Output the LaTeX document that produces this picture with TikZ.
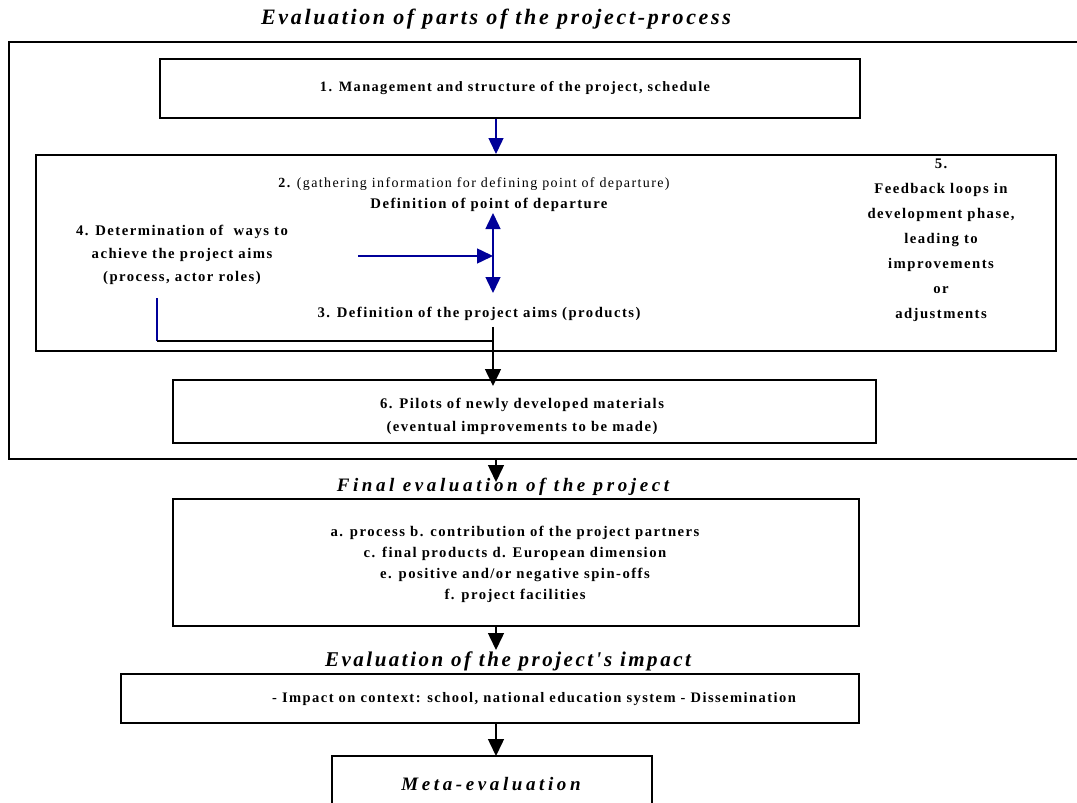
\documentclass[tikz,border=0pt]{standalone}
\usepackage{fontspec}
\setmainfont{Liberation Serif}
\newfontfamily\spfont{Liberation Serif}[LetterSpace=10]
\newfontfamily\ttlA{Liberation Serif}[LetterSpace=12]
\newfontfamily\ttlB{Liberation Serif}[LetterSpace=19]
\usetikzlibrary{arrows.meta}
\definecolor{navyblue}{RGB}{0,0,153}
\begin{document}
\begin{tikzpicture}[x=1pt,y=-1pt,
  box/.style={draw, line width=2pt, inner sep=0pt, anchor=north west},
  btxt/.style={font=\spfont\bfseries\fontsize{14.7}{21}\selectfont, align=center, inner sep=0pt},
  rtxt/.style={font=\spfont\fontsize{14}{21}\selectfont, align=center, inner sep=0pt},
  ctxt/.style={font=\spfont\bfseries\fontsize{14.3}{21}\selectfont, align=center, inner sep=0pt},
  ttla/.style={font=\ttlA\bfseries\itshape\fontsize{22}{26}\selectfont, inner sep=0pt},
  ttlb/.style={font=\ttlB\bfseries\itshape\fontsize{19}{22}\selectfont, inner sep=0pt},
  barrow/.style={draw=navyblue, line width=1.5pt, -{Triangle[width=15pt,length=16pt]}},
  bline/.style={draw=navyblue, line width=1.5pt},
  kline/.style={draw=black, line width=1.5pt},
  karrow/.style={draw=black, line width=1.5pt, -{Triangle[width=16pt,length=17pt]}}
]
\useasboundingbox (0,0) rectangle (1077,803);
\fill[white] (0,0) rectangle (1077,803);

% title
\node[ttla] (title1) at (496,19) {Evaluation of parts of the project-process};

% outer frame
\node[box, minimum width=1090pt, minimum height=417pt] (outer) at (8,41) {};

% box 1
\node[box, minimum width=700pt, minimum height=59pt] (b1) at (159,58) {};
\node[ctxt] (t1) at (515,88) {1. Management and structure of the project, schedule};
\coordinate (ax) at (496,88);

% box 2
\node[box, minimum width=1020pt, minimum height=196pt] (b2) at (35,154) {};
\node[rtxt] (t2a) at (474,184) {\bfseries 2. \mdseries(gathering information for defining point of departure)};
\node[btxt] (t2b) at (489,205) {Definition of point of departure};
\node[btxt, font=\spfont\bfseries\fontsize{14.7}{23}\selectfont] (t4) at (182,255) {4. Determination of \ ways to\\achieve the project aims\\(process, actor roles)};
\node[btxt] (t3) at (479,314) {3. Definition of the project aims (products)};
\node[btxt, font=\spfont\bfseries\fontsize{14.7}{25}\selectfont] (t5) at (941,240) {5.\\Feedback loops in\\development phase,\\leading to\\improvements\\or\\adjustments};

% blue connectors in box 2
\coordinate (up) at (493,213);
\coordinate (dn) at (493,293);
\coordinate (mid) at (493,256);
\coordinate (h4) at (358,256);
\draw[bline, {Triangle[width=15pt,length=16pt]}-{Triangle[width=15pt,length=16pt]}] (up) -- (dn);
\draw[barrow] (h4) -- (mid);
\draw[barrow] (b1.south -| ax) -- ++(0,35) coordinate (b1end);

% return line
\coordinate (l4) at (157,298);
\coordinate (corner) at (157,341);
\coordinate (join) at (493,341);
\draw[bline] (l4) -- (corner);
\draw[kline] (corner) -- (join);
\draw[kline] (t3.south -| join) ++(0,6) -- (join);

% box 6
\node[box, minimum width=703pt, minimum height=63pt] (b6) at (172,379) {};
\node[btxt, font=\spfont\bfseries\fontsize{14.7}{23}\selectfont] (t6) at (522,416) {6. Pilots of newly developed materials\\(eventual improvements to be made)};
\draw[karrow] (join) -- ([yshift=-7pt]b6.north -| join);

% final evaluation
\draw[karrow] (outer.south -| ax) -- ++(0,22) coordinate (a2);
\node[ttlb] (title2) at (503,487) {Final evaluation of the project};
\node[box, minimum width=686pt, minimum height=127pt] (b7) at (172,498) {};
\node[btxt] (t7) at (515,564) {a. process b. contribution of the project partners\\c. final products d. European dimension\\e. positive and/or negative spin-offs\\f. project facilities};

% impact
\draw[karrow] (b7.south -| ax) -- ++(0,23) coordinate (a3);
\node[ttla, font=\ttlA\bfseries\itshape\fontsize{21}{24}\selectfont] (title3) at (508,661) {Evaluation of the project's impact};
\node[box, minimum width=738pt, minimum height=49pt] (b8) at (120,673) {};
\node[ctxt, font=\spfont\bfseries\fontsize{14.5}{21}\selectfont] (t8) at (534,699) {- Impact on context: school, national education system - Dissemination};

% meta
\draw[karrow] (b8.south -| ax) -- ++(0,32) coordinate (a4);
\node[box, minimum width=320pt, minimum height=70pt] (b9) at (331,755) {};
\node[ttlb] (t9) at (491,784) {Meta-evaluation};
\end{tikzpicture}
\end{document}
